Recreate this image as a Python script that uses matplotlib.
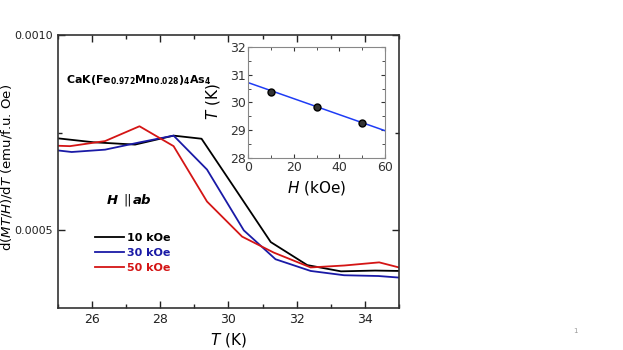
import matplotlib
matplotlib.use("Agg")
import matplotlib.pyplot as plt
from matplotlib.ticker import MultipleLocator, FormatStrFormatter

# Main panel data: d(MT/H)/dT vs T
T_10 = [25.0, 26.04, 27.26, 28.39, 29.21, 30.2, 31.24, 32.31, 33.3, 34.3, 35.0]
V_10 = [0.000735, 0.000725, 0.000719, 0.000742, 0.000734, 0.000605, 0.000469, 0.000410, 0.000394, 0.000396, 0.000395]

T_30 = [25.0, 25.4, 26.38, 27.41, 28.39, 29.37, 30.45, 31.38, 32.41, 33.39, 34.4, 35.0]
V_30 = [0.000704, 0.000700, 0.000706, 0.000725, 0.000742, 0.000655, 0.000499, 0.000425, 0.000395, 0.000384, 0.000382, 0.000378]

T_50 = [25.0, 25.35, 26.38, 27.39, 28.39, 29.37, 30.4, 31.33, 32.41, 33.4, 34.42, 35.0]
V_50 = [0.000716, 0.000715, 0.000728, 0.000766, 0.000715, 0.000573, 0.000483, 0.000442, 0.000404, 0.000409, 0.000417, 0.000404]

series_labels = ["10 kOe", "30 kOe", "50 kOe"]
series_colors = ["#000000", "#1a1aa6", "#d41515"]

# Inset data: transition temperature vs field
H_pts = [10, 30, 50]
Tc_pts = [30.39, 29.84, 29.27]
H_fit = [0, 60]
Tc_fit = [30.71, 28.99]

fig = plt.figure(figsize=(6.23, 3.5), dpi=100)
ax = fig.add_axes([0.0931, 0.12, 0.5473, 0.78])

for T, V, lab, c in zip([T_10, T_30, T_50], [V_10, V_30, V_50], series_labels, series_colors):
    ax.plot(T, V, color=c, lw=1.3, label=lab)

ax.set_xlim(25, 35)
ax.set_ylim(0.0003, 0.0010)
ax.xaxis.set_major_locator(MultipleLocator(2))
ax.xaxis.set_minor_locator(MultipleLocator(1))
ax.yaxis.set_major_locator(MultipleLocator(0.0005))
ax.yaxis.set_minor_locator(MultipleLocator(0.00025))
ax.yaxis.set_major_formatter(FormatStrFormatter('%.4f'))
ax.tick_params(which='both', direction='in', top=True, right=True, labelsize=9, colors='#222222')
ax.tick_params(axis='y', labelsize=8, pad=4)
ax.tick_params(which='major', length=5, width=1)
ax.tick_params(which='minor', length=3, width=1)
for s in ax.spines.values():
    s.set_linewidth(1.2)
    s.set_color('#333333')

ax.set_xlabel(r'$T$ (K)', fontsize=11, labelpad=4)
ax.set_ylabel(r'd($MT/H$)/d$T$ (emu/f.u. Oe)', fontsize=9.5)
ax.yaxis.set_label_coords(-0.128, 0.516)

ax.text(0.022, 0.835, r'CaK(Fe$_{\mathbf{0.972}}$Mn$_{\mathbf{0.028}}$)$_{\mathbf{4}}$As$_{\mathbf{4}}$',
        transform=ax.transAxes, fontsize=7.9, fontweight='bold', va='center', ha='left')
ax.text(0.143, 0.395, 'H', transform=ax.transAxes, fontsize=9.5, fontweight='bold',
        fontstyle='italic', va='center', ha='left')
ax.text(0.192, 0.395, '||', transform=ax.transAxes, fontsize=9, va='center', ha='left')
ax.text(0.219, 0.395, 'ab', transform=ax.transAxes, fontsize=9.5, fontweight='bold',
        fontstyle='italic', va='center', ha='left')

leg = ax.legend(loc='upper left', bbox_to_anchor=(0.085, 0.305), frameon=False,
                prop={'weight': 'bold', 'size': 8}, labelcolor='linecolor',
                handlelength=2.6, handletextpad=0.3, labelspacing=0.45, borderpad=0.2)

# Inset
axi = fig.add_axes([0.3986, 0.5477, 0.2194, 0.3189])
axi.plot(H_fit, Tc_fit, color='#1f3cf5', lw=1.1)
axi.plot(H_pts, Tc_pts, 'o', ms=5, mfc='#333333', mec='#000000', mew=1)
axi.set_xlim(0, 60)
axi.set_ylim(28, 32)
axi.xaxis.set_major_locator(MultipleLocator(20))
axi.xaxis.set_minor_locator(MultipleLocator(10))
axi.yaxis.set_major_locator(MultipleLocator(1))
axi.yaxis.set_minor_locator(MultipleLocator(0.5))
axi.tick_params(which='both', direction='in', top=True, right=True, labelsize=9,
                colors='#333333', pad=2)
axi.tick_params(which='major', length=3, width=0.8)
axi.tick_params(which='minor', length=2, width=0.6)
for s in axi.spines.values():
    s.set_linewidth(0.8)
    s.set_color('#888888')
axi.set_xlabel(r'$H$ (kOe)', fontsize=11)
axi.set_ylabel(r'$T$ (K)', fontsize=11)
axi.yaxis.set_label_coords(-0.195, 0.507)
axi.xaxis.set_label_coords(0.5, -0.185)

fig.text(0.92, 0.048, '1', fontsize=5, color='#999999')

fig.savefig('out.png', dpi=100)
